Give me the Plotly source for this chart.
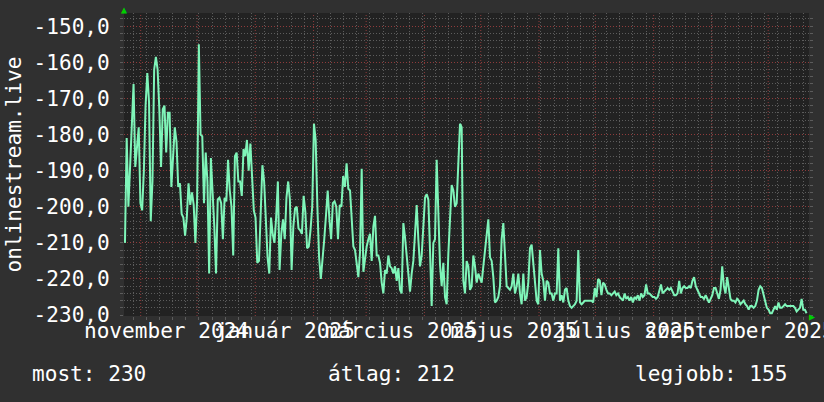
import pandas as pd
import plotly.graph_objects as go

# onlinestream.live ranking in three consecutive spans
SPAN1_START, SPAN1_END = "2024-10-23 15:00", "2025-02-19 12:00"
SPAN1 = [
    -210, -181, -200, -190, -180, -166, -189, -183, -178, -199, -201, -190, -172, -163,
    -171, -204, -193, -162, -158.5, -162, -173, -189, -173, -172, -185, -174, -174,
    -194.5, -185, -178, -182, -194.5, -193.5, -202, -203, -208, -203, -193.5, -199.5,
    -196, -199.5, -210, -198, -155, -180, -180.5, -199, -185, -193, -218.5, -186.5,
    -195.5, -205.5, -218.5, -198, -197.5, -199, -209, -197.5, -198.5, -187, -195.5,
    -200, -213.5, -186, -185, -193, -193, -197, -184, -186, -181.5, -190, -182.5,
    -190.5, -201, -203, -215.5, -215, -199.5, -188.5, -193, -203.5, -214, -218.5,
    -203, -207.5, -210, -203, -193, -217.5, -207.5, -203.5, -209, -197.5, -193, -198,
    -217.5, -205.5, -200.5, -200, -206, -206.5, -207.5, -197, -201.5, -211.5, -211,
    -206.5, -200, -177, -181.5, -200, -214, -220, -215, -209, -202.5, -195.5, -203.5,
    -209, -199, -198.5, -200, -209, -199.5, -200, -191.5, -194.5, -188, -195,
]
SPAN2_START, SPAN2_END = "2025-02-20 10:00", "2025-06-21 22:00"
SPAN2 = [
    -195.5, -203, -211, -212, -216.5, -219.5, -212.5, -189.5, -218, -214, -211, -209,
    -207.5, -215, -205.5, -202.5, -213.5, -213.5, -215.5, -221, -224, -217.5, -218.5,
    -213.5, -216.5, -217, -218.5, -216.5, -220.5, -217, -223, -224, -204.5, -208.5,
    -213.5, -219.5, -223.5, -218.5, -215, -207.5, -199.5, -209, -216.5, -213.5, -206.5,
    -197.5, -196.5, -198, -212, -227.5, -210, -209, -187, -200, -216, -222, -215.5,
    -225, -227, -213, -202, -194, -195.5, -200, -199, -185, -177, -178, -220.5, -224,
    -215, -216.5, -223, -222, -213.5, -216.5, -221, -218.5, -219.5, -221, -216.5,
    -211.5, -208.5, -203.5, -214, -215, -219.5, -226.5, -226, -225, -222, -209, -204.5,
    -214, -222, -222.5, -223, -222, -218.5, -224, -222, -218.5, -224, -227, -218.5,
    -226, -225, -221, -211.5, -210.5, -216.5, -222, -226, -227, -212, -218.5, -220.5,
    -226, -220.5, -221, -224, -224, -226, -224, -224, -211.5, -226, -224.5, -226.5,
    -223, -222.5, -226, -227.5, -228, -227.5, -227, -226, -212,
]
SPAN3_START, SPAN3_END = "2025-06-22 19:00", "2025-10-21 10:00"
SPAN3 = [
    -226.5, -227, -226.5, -226, -226, -226, -226, -226, -226.5, -222.5, -225, -220,
    -220.5, -224.5, -221, -221.5, -223, -224, -224, -224.5, -224, -223.5, -224.5, -224,
    -225, -225.5, -226, -224, -225.5, -225, -226, -225, -226.5, -225, -225.5, -224.5,
    -226, -224, -225, -224.5, -221.5, -224, -224, -224.5, -225, -225, -225.5, -225,
    -223, -221.5, -224, -223.5, -223, -222.5, -223, -222.5, -223.5, -224.5, -224.5,
    -224, -220.5, -224, -222.5, -222, -222.5, -222.5, -222, -222.5, -220.5, -219.5,
    -222, -223, -224, -225, -225, -225.5, -224.5, -225.5, -226.5, -225.5, -224.5,
    -222.5, -222.5, -224, -225.5, -223, -216.5, -222, -224, -219.5, -223, -225.5, -226,
    -226, -226.5, -225.5, -226, -227, -226.5, -226, -227, -227.5, -228.5, -227.5,
    -227.5, -228, -227.5, -226, -223, -222, -222.5, -224.5, -226, -228, -228.5, -229.5,
    -229.5, -228.5, -227.5, -228.5, -226.5, -228, -228, -227.5, -227, -227.5, -227.5,
    -227.5, -227.5, -227.5, -228, -229, -228.5, -228, -225.5, -228.5, -228.5, -229.5,
]

X_RANGE = ["2024-10-23 02:40", "2025-10-22 17:00"]
Y_RANGE = [-230.25, -146.35]
Y_TICKS = [-230, -220, -210, -200, -190, -180, -170, -160, -150]
MONTH_STARTS = pd.date_range("2024-11-01", "2025-10-01", freq="MS")
LABEL_DATES = ["2024-11-14 17:30", "2025-01-16 19:00", "2025-03-19 20:00",
               "2025-05-18 17:00", "2025-07-17 00:00", "2025-09-15 17:00"]
LABEL_TEXT = ["november 2024", "január 2025", "március 2025",
              "május 2025", "július 2025", "szeptember 2025"]
STATS = [("most", 230), ("átlag", 212), ("legjobb", 155)]
STAT_X = [-0.137, 0.295, 0.743]

COLORS = {
    "paper": "#303030",
    "plot": "#222222",
    "line": "#7ff5b9",
    "grid": "#5c5c5c",
    "major": "#8f3b3b",
    "text": "#ffffff",
    "arrow": "#00d000",
}
FONT = "DejaVu Sans Mono, monospace"
FSIZE = 21.1
DOTS = "1px,2px"

x_all, y_all = [], []
for start, end, vals in [(SPAN1_START, SPAN1_END, SPAN1),
                         (SPAN2_START, SPAN2_END, SPAN2),
                         (SPAN3_START, SPAN3_END, SPAN3)]:
    x_all.extend(pd.date_range(start, end, periods=len(vals)))
    y_all.extend(vals)

fig = go.Figure()
fig.add_trace(go.Scatter(
    x=x_all, y=y_all, mode="lines",
    line=dict(color=COLORS["line"], width=2),
    showlegend=False, hoverinfo="skip",
))

# month boundaries as red dotted rules
for d in MONTH_STARTS:
    fig.add_vline(x=d, line=dict(color=COLORS["major"], width=1, dash=DOTS),
                  layer="below")

fig.update_layout(
    width=824, height=402,
    paper_bgcolor=COLORS["paper"], plot_bgcolor=COLORS["plot"],
    margin=dict(l=124, r=15, t=13, b=86, autoexpand=False),
    font=dict(family=FONT, size=FSIZE, color=COLORS["text"]),
    showlegend=False,
    xaxis=dict(
        type="date", range=X_RANGE, tickvals=LABEL_DATES, ticktext=LABEL_TEXT,
        tickangle=0, showgrid=False, zeroline=False, ticks="",
        ticklabeloverflow="allow", automargin=False,
        minor=dict(tick0="2024-10-28", dtick=7 * 86400000, showgrid=True,
                   gridcolor=COLORS["grid"], griddash=DOTS, gridwidth=1,
                   ticks="outside", ticklen=3, tickcolor=COLORS["grid"]),
        tickfont=dict(family=FONT, size=FSIZE, color=COLORS["text"]),
    ),
    yaxis=dict(
        range=Y_RANGE, tickvals=Y_TICKS,
        ticktext=[f"{v:.1f}".replace(".", ",") for v in Y_TICKS],
        showgrid=True, gridcolor=COLORS["major"], griddash=DOTS, gridwidth=1,
        ticks="outside", ticklen=3, tickcolor=COLORS["grid"], mirror="ticks",
        minor=dict(dtick=2, showgrid=True, gridcolor=COLORS["grid"],
                   griddash=DOTS, gridwidth=1, ticks="outside", ticklen=3,
                   tickcolor=COLORS["grid"]),
        zeroline=False, ticklabelstandoff=6, automargin=False,
        tickfont=dict(family=FONT, size=FSIZE, color=COLORS["text"]),
    ),
)

fig.add_annotation(
    x=-0.162, y=0.5, xref="paper", yref="paper", text="onlinestream.live",
    textangle=-90, showarrow=False, xanchor="center", yanchor="middle",
    font=dict(family=FONT, size=FSIZE, color=COLORS["text"]),
)
for (name, val), sx in zip(STATS, STAT_X):
    fig.add_annotation(
        x=sx, y=-0.19, xref="paper", yref="paper", text=f"{name}: {val}",
        showarrow=False, xanchor="left", yanchor="middle",
        font=dict(family=FONT, size=FSIZE, color=COLORS["text"]),
    )

# rrdtool-style axis arrows
fig.add_annotation(x=0, y=1, xref="paper", yref="paper", text="▲",
                   showarrow=False, xanchor="center", yanchor="bottom",
                   yshift=-4, font=dict(size=10, color=COLORS["arrow"]))
fig.add_annotation(x=1, y=0, xref="paper", yref="paper", text="▶",
                   showarrow=False, xanchor="left", yanchor="middle",
                   xshift=-2, font=dict(size=10, color=COLORS["arrow"]))

# the page body has a default 8px margin; drop it so the figure fills the window
fig.write_html("out.html", config={"displayModeBar": False},
               post_script="document.body.style.margin='0';")
